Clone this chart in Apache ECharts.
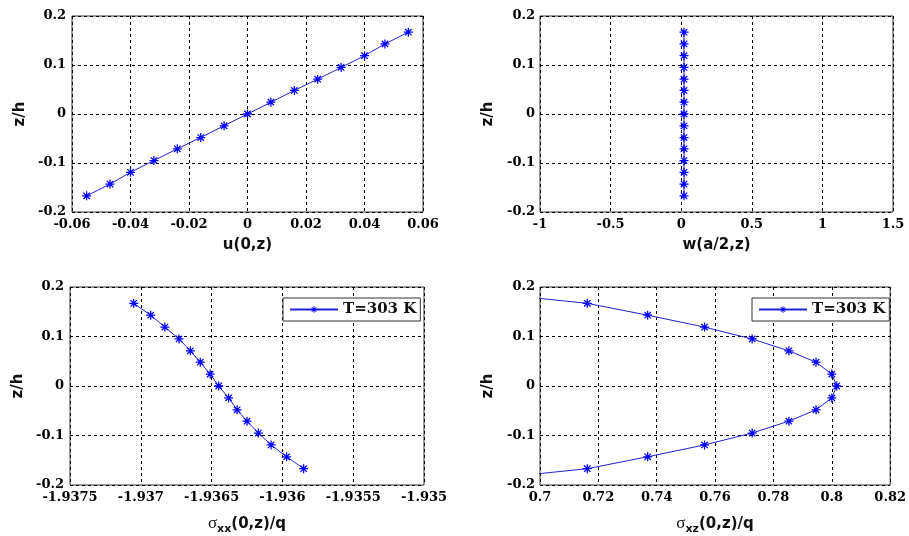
<!DOCTYPE html>
<html>
<head>
<meta charset="utf-8">
<script src="https://cdn.jsdelivr.net/npm/echarts@6/dist/echarts.min.js"></script>
<style>html,body{margin:0;padding:0;background:#fff;}#c{width:909px;height:536px;}</style>
</head>
<body>
<div id="c"></div>
<script>
// ---- data ----
var zh = [0.167, 0.143, 0.119, 0.095, 0.071, 0.048, 0.024, 0, -0.024, -0.048, -0.071, -0.095, -0.119, -0.143, -0.167];
var uVals = [0.055, 0.047, 0.040, 0.032, 0.024, 0.016, 0.008, 0.000, -0.008, -0.016, -0.024, -0.032, -0.040, -0.047, -0.055];
var wVals = [0.02, 0.02, 0.02, 0.02, 0.02, 0.02, 0.02, 0.02, 0.02, 0.02, 0.02, 0.02, 0.02, 0.02, 0.02];
var sxxVals = [-1.93705, -1.93693, -1.93683, -1.93673, -1.93665, -1.93658, -1.93651, -1.93645, -1.93638, -1.93632, -1.93625, -1.93617, -1.93608, -1.93597, -1.93585];
var sxzVals = [0.7162, 0.7369, 0.7564, 0.7727, 0.7853, 0.7946, 0.8000, 0.8017, 0.8000, 0.7946, 0.7853, 0.7727, 0.7564, 0.7369, 0.7162];
var sxzTailX = [0.69, 0.69];
var sxzTailZ = [0.183, -0.183];
var legendName = 'T=303 K';
var yTicks = {min: -0.2, max: 0.2, interval: 0.1};
var uTicks = {min: -0.06, max: 0.06, interval: 0.02};
var wTicks = {min: -1, max: 1.5, interval: 0.5};
var sxxTicks = {min: -1.9375, max: -1.935, interval: 0.0005};
var sxzTicks = {min: 0.7, max: 0.82, interval: 0.02};

var chart = echarts.init(document.getElementById('c'), null, {renderer: 'canvas'});

var STAR = 'path://M-1,-0.14L1,-0.14L1,0.14L-1,0.14Z M-0.14,-1L0.14,-1L0.14,1L-0.14,1Z M-0.608,-0.806L0.806,0.608L0.608,0.806L-0.806,-0.608Z M-0.806,0.608L0.608,-0.806L0.806,-0.608L-0.608,0.806Z';
var tickFont = {fontFamily: 'DejaVu Serif', fontWeight: 'bold', fontSize: 13, color: '#000'};
var nameFont = {fontFamily: 'DejaVu Sans', fontWeight: 'bold', fontSize: 15, color: '#111'};
var split = {show: true, lineStyle: {color: '#000', type: [3, 3], width: 1}};

function fmt(v) { return String(parseFloat(v.toFixed(6))); }

function xAxis(gi, t, name, rich, gap) {
  var o = {
    type: 'value', gridIndex: gi, min: t.min, max: t.max, interval: t.interval,
    axisLine: {show: false}, axisTick: {show: false},
    axisLabel: Object.assign({margin: 6, formatter: fmt, showMinLabel: true, showMaxLabel: true}, tickFont),
    splitLine: split,
    name: name, nameLocation: 'middle', nameGap: gap,
    nameTextStyle: Object.assign({}, nameFont)
  };
  if (rich) o.nameTextStyle.rich = rich;
  return o;
}
function yAxis(gi, margin) {
  return {
    type: 'value', gridIndex: gi, min: yTicks.min, max: yTicks.max, interval: yTicks.interval,
    axisLine: {show: false}, axisTick: {show: false},
    axisLabel: Object.assign({margin: margin, formatter: fmt, showMinLabel: true, showMaxLabel: true}, tickFont),
    splitLine: split,
    name: 'z/h', nameLocation: 'middle', nameGap: 44, nameTextStyle: nameFont
  };
}
var subRich = {
  g: {fontFamily: 'Liberation Serif', fontSize: 17, fontWeight: 'normal', color: '#111', lineHeight: 22, verticalAlign: 'middle'},
  s: {fontFamily: 'DejaVu Sans', fontWeight: 'bold', fontSize: 11, color: '#111', lineHeight: 10, verticalAlign: 'bottom'},
  a: {fontFamily: 'DejaVu Sans', fontWeight: 'bold', fontSize: 15, color: '#111', lineHeight: 22, verticalAlign: 'middle'}
};

function pairs(xs, ys) { return ys.map(function (z, i) { return [xs[i], z]; }); }

function ser(name, xi, data) {
  return {
    type: 'line', name: name, xAxisIndex: xi, yAxisIndex: xi, data: data,
    symbol: STAR, symbolSize: 9, showSymbol: true,
    lineStyle: {color: '#2222cc', width: 1},
    itemStyle: {color: '#0000ff'},
    clip: true, silent: true
  };
}

var sxzData = [{value: [sxzTailX[0], sxzTailZ[0]], symbol: 'none'}]
  .concat(pairs(sxzVals, zh))
  .concat([{value: [sxzTailX[1], sxzTailZ[1]], symbol: 'none'}]);

var gridStyle = {show: true, borderColor: '#333', borderWidth: 1, backgroundColor: '#fff'};
var legendBase = {
  orient: 'horizontal', top: 298, data: [legendName],
  itemWidth: 48, itemHeight: 8,
  borderColor: '#333', borderWidth: 1, padding: [4, 4, 4, 6], backgroundColor: '#fff',
  textStyle: {fontFamily: 'DejaVu Serif', fontWeight: 'bold', fontSize: 15, color: '#111'},
  selectedMode: false
};

chart.setOption({
  animation: false,
  backgroundColor: '#fff',
  grid: [
    Object.assign({left: 72, top: 16, width: 351, height: 196}, gridStyle),
    Object.assign({left: 540, top: 16, width: 353, height: 196}, gridStyle),
    Object.assign({left: 70, top: 287, width: 354, height: 198}, gridStyle),
    Object.assign({left: 540, top: 287, width: 353, height: 198}, gridStyle)
  ],
  xAxis: [
    xAxis(0, uTicks, 'u(0,z)', null, 26),
    xAxis(1, wTicks, 'w(a/2,z)', null, 26),
    xAxis(2, sxxTicks, '{g|σ}{s|xx}{a|(0,z)/q}', subRich, 28),
    xAxis(3, sxzTicks, '{g|σ}{s|xz}{a|(0,z)/q}', subRich, 28)
  ],
  yAxis: [yAxis(0, 6), yAxis(1, 5), yAxis(2, 6), yAxis(3, 5)],
  legend: [
    Object.assign({left: 283}, legendBase),
    Object.assign({left: 752}, legendBase)
  ],
  series: [
    ser('u', 0, pairs(uVals, zh)),
    ser('w', 1, pairs(wVals, zh)),
    ser(legendName, 2, pairs(sxxVals, zh)),
    ser(legendName, 3, sxzData)
  ]
});
</script>
</body>
</html>
